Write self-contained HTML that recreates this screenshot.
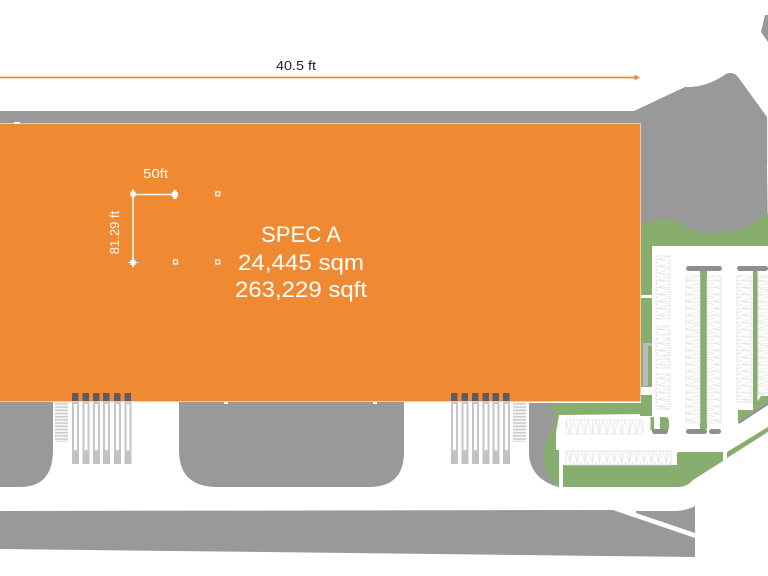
<!DOCTYPE html>
<html><head><meta charset="utf-8"><style>
html,body{margin:0;padding:0;background:#fff;width:768px;height:576px;overflow:hidden}
svg{display:block}
text{font-family:"Liberation Sans",sans-serif}
</style></head><body>
<svg width="768" height="576" viewBox="0 0 768 576" xmlns="http://www.w3.org/2000/svg">
<defs>
<pattern id="v" width="14" height="7" patternUnits="userSpaceOnUse"><rect width="14" height="7" fill="#fff"/><path d="M0 .25H14M0 .25L14 3.5L0 6.75" fill="none" stroke="#dfdfdf" stroke-width=".6"/></pattern>
<pattern id="h" width="7.4" height="14" patternUnits="userSpaceOnUse"><rect width="7.4" height="14" fill="#fff"/><path d="M.25 0V14M.25 14L3.7 0L7.15 14" fill="none" stroke="#dfdfdf" stroke-width=".6"/></pattern>
<pattern id="s" width="13" height="3.2" patternUnits="userSpaceOnUse"><rect width="13" height="3.2" fill="#f4f4f4"/><rect width="13" height="1.4" fill="#cacaca"/></pattern>
</defs>
<rect width="768" height="576" fill="#fff"/>

<!-- gray top -->
<path d="M0 111H634L685 87Q706 88 726 74C730 72 735 73 738 77L767 117V164L768 240H640V124H0Z" fill="#999"/>
<path d="M768 15H765L761 32L768 42Z" fill="#999"/>
<rect x="767" y="117" width="1" height="47" fill="#eee"/>

<!-- green landscape top right -->
<path d="M641 227C650 221 657 219 663 219C672 219 678 222 685 226C697 233 708 234 720 233C738 232 755 224 768 213V300H641Z" fill="#87ae6e"/>

<!-- white lot -->
<path d="M652 246H768V432L720 470H652Z" fill="#fff"/>
<rect x="641" y="295" width="11" height="3" fill="#fff"/>
<rect x="641" y="298" width="11" height="97" fill="#87ae6e"/>
<rect x="641" y="387" width="11" height="8" fill="#fff"/>
<path d="M643 343H652V346H648V386H643Z" fill="#bbb"/>
<rect x="648" y="347" width="4" height="39" fill="#87ae6e"/>

<!-- gray lots -->
<path d="M0 402H53V450Q53 487 20 487H0Z" fill="#999"/>
<path d="M179 402H404V452Q404 487 369 487H217Q179 487 179 450Z" fill="#999"/>
<path d="M529 403H556V487H558Q529 478 529 452Z" fill="#999"/>

<!-- green lower -->
<path d="M547 403H642V395H652V414L559 415L556 433V450H559V487H558C548 478 543 465 543 453C543 440 556 428 556 414C553 409 550 406 547 403Z" fill="#87ae6e"/>
<path d="M563 465H677V454Q677 452 679 452H723V461L693 480Q687 487 678 487H563Z" fill="#87ae6e"/>
<path d="M727 452L768 427V432L727 458Z" fill="#87ae6e"/>
<rect x="640" y="395" width="12" height="21" fill="#87ae6e"/>
<path d="M632 401H641V403H632Z" fill="#fff"/>

<!-- bottom road -->
<path d="M0 511L613 510L695 538V557L0 549Z" fill="#999"/>
<path d="M636 511H677Q688 510 695 506V533L636 513Z" fill="#999"/>

<!-- parking strips -->
<rect x="700" y="271" width="7" height="158" fill="#87ae6e"/>
<rect x="753" y="271" width="4.5" height="139" fill="#87ae6e"/>
<rect x="686" y="266" width="36" height="5" rx="2.5" fill="#8f8f8f"/>
<rect x="737" y="266" width="31" height="5" rx="2.5" fill="#8f8f8f"/>
<path d="M738 410H757V402L761 396H768V402L738 422Z" fill="#87ae6e"/>
<path d="M738 422L768 402V405L739 424Z" fill="#8f8f8f"/>
<rect x="686" y="429" width="21" height="5" rx="2.5" fill="#8f8f8f"/>
<rect x="709" y="429" width="12" height="5" rx="2.5" fill="#8f8f8f"/>
<rect x="650.5" y="417" width="3.5" height="13" fill="#87ae6e"/>
<path d="M660 417H665Q669 417 669 422V427Q669 431 665 431H660Z" fill="#87ae6e"/>
<path d="M652 429H668V431Q668 434 665 434H655Q652 434 652 431Z" fill="#8f8f8f"/>

<!-- parking spaces -->
<g stroke="#dfdfdf" stroke-width=".7">
<rect x="656" y="256" width="14" height="63" fill="url(#v)"/>
<rect x="656" y="326" width="14" height="9" fill="url(#v)"/>
<rect x="656" y="338" width="14" height="18" fill="url(#v)"/>
<rect x="656" y="359" width="14" height="9" fill="url(#v)"/>
<rect x="656" y="374" width="14" height="35" fill="url(#v)"/>
<rect x="686" y="276" width="14" height="147" fill="url(#v)"/>
<rect x="707" y="276" width="14" height="147" fill="url(#v)"/>
<rect x="737" y="276" width="15" height="126" fill="url(#v)"/>
<rect x="758" y="276" width="11" height="118" fill="url(#v)"/>
<rect x="566" y="420" width="77" height="14" fill="url(#h)"/>
<rect x="566" y="451" width="105" height="14" fill="url(#h)"/>
</g>

<!-- stairs -->
<rect x="55" y="402" width="13" height="40" fill="url(#s)"/>
<rect x="513" y="402" width="13" height="40" fill="url(#s)"/>

<!-- docks -->
<g id="docks">
<g fill="#fff" stroke="#c6c6c6" stroke-width="2"><rect x="73" y="403" width="5" height="48"/><rect x="83.500" y="403" width="5" height="48"/><rect x="94" y="403" width="5" height="48"/><rect x="104" y="403" width="5" height="48"/><rect x="115" y="403" width="5" height="48"/><rect x="125.500" y="403" width="5" height="48"/><rect x="452" y="403" width="5" height="48"/><rect x="462.500" y="403" width="5" height="48"/><rect x="473" y="403" width="5" height="48"/><rect x="483.500" y="403" width="5" height="48"/><rect x="493.500" y="403" width="5" height="48"/><rect x="504" y="403" width="5" height="48"/></g>
<g fill="#c2c2c2"><rect x="72" y="452" width="7" height="12"/><rect x="82.500" y="452" width="7" height="12"/><rect x="93" y="452" width="7" height="12"/><rect x="103" y="452" width="7" height="12"/><rect x="114" y="452" width="7" height="12"/><rect x="124.500" y="452" width="7" height="12"/><rect x="451" y="452" width="7" height="12"/><rect x="461.500" y="452" width="7" height="12"/><rect x="472" y="452" width="7" height="12"/><rect x="482.500" y="452" width="7" height="12"/><rect x="492.500" y="452" width="7" height="12"/><rect x="503" y="452" width="7" height="12"/></g>
</g>

<!-- building -->
<rect x="-2" y="123.500" width="642.500" height="278" fill="#f08a32" stroke="#f6c9a0" stroke-width="1"/>
<g fill="#5f5a64"><rect x="72" y="393" width="6.500" height="8"/><rect x="82.500" y="393" width="6.500" height="8"/><rect x="93" y="393" width="6.500" height="8"/><rect x="103" y="393" width="6.500" height="8"/><rect x="114" y="393" width="6.500" height="8"/><rect x="124.500" y="393" width="6.500" height="8"/><rect x="451" y="393" width="6.500" height="8"/><rect x="461.500" y="393" width="6.500" height="8"/><rect x="472" y="393" width="6.500" height="8"/><rect x="482.500" y="393" width="6.500" height="8"/><rect x="492.500" y="393" width="6.500" height="8"/><rect x="503" y="393" width="6.500" height="8"/></g>
<rect x="14" y="122" width="6" height="2" fill="#fff"/>
<rect x="224" y="402" width="4" height="2" fill="#fff"/>
<rect x="373" y="402" width="4" height="2" fill="#fff"/>

<!-- grid -->
<path d="M133 194.500H175M133 193V262" stroke="#fff" stroke-width="1.500" fill="none"/>
<g fill="#fff"><rect x="130.500" y="191.500" width="5" height="5"/><rect x="130.500" y="260" width="5" height="5"/><rect x="173.500" y="190" width="3" height="9"/><rect x="172" y="192" width="6" height="5"/><rect x="132" y="189.500" width="2" height="9"/><rect x="132" y="258" width="2" height="9"/></g>
<g fill="none" stroke="#fff" stroke-width="1.200"><rect x="215.800" y="191.800" width="4" height="4"/><rect x="173.500" y="260" width="4" height="4"/><rect x="215.800" y="260" width="4" height="4"/></g>
<path d="M128 262.500H138" stroke="#fff" stroke-width="1"/>

<!-- dimension arrow -->
<path d="M0 77.500H636" stroke="#f08a32" stroke-width="1.800"/>
<path d="M640 77.500L634.500 74.500V80.500Z" fill="#f08a32"/>

<!-- labels -->
<text x="276" y="70" font-size="13" fill="#222" textLength="40" lengthAdjust="spacingAndGlyphs">40.5 ft</text>
<text x="143" y="178" font-size="13" fill="#fff" textLength="25" lengthAdjust="spacingAndGlyphs">50ft</text>
<text transform="translate(119 232.500) rotate(-90)" font-size="13" fill="#fff" text-anchor="middle">81.29 ft</text>
<text x="261" y="242" font-size="22" fill="#fff" textLength="80" lengthAdjust="spacingAndGlyphs">SPEC A</text>
<text x="238" y="270" font-size="22" fill="#fff" textLength="126" lengthAdjust="spacingAndGlyphs">24,445 sqm</text>
<text x="235" y="297" font-size="22" fill="#fff" textLength="132" lengthAdjust="spacingAndGlyphs">263,229 sqft</text>
</svg>
</body></html>
